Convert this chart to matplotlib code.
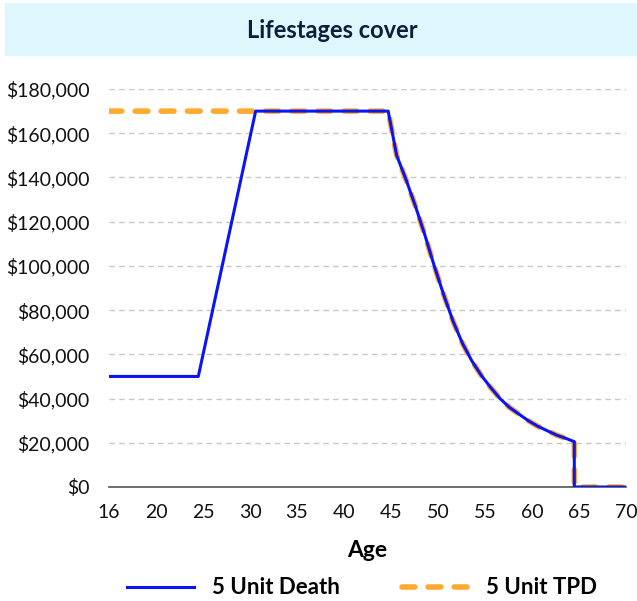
import matplotlib.pyplot as plt
from matplotlib.patches import Rectangle

plt.rcParams['font.family'] = ['Lato', 'DejaVu Sans']

# x positions on the chart's age scale (the "16" label sits one step left of 20)
death_age = [15, 24.5, 30.6, 44.7, 45.6, 46.6, 47.6, 48.6, 49.6, 50.6, 51.6,
             52.6, 53.6, 54.6, 55.6, 56.6, 57.6, 58.6, 59.6, 60.6, 61.6,
             62.6, 63.6, 64.5, 64.5, 70]
death_cover = [50000, 50000, 170000, 170000, 150000, 139000, 127000, 114000,
               100000, 87000, 75000, 65000, 57000, 50500, 45000, 40000, 36000,
               33000, 30000, 27500, 25500, 23500, 22000, 20500, 0, 0]

tpd_age = [15, 44.7, 45.6, 46.6, 47.6, 48.6, 49.6, 50.6, 51.6, 52.6, 53.6,
           54.6, 55.6, 56.6, 57.6, 58.6, 59.6, 60.6, 61.6, 62.6, 63.6,
           64.5, 64.5, 70]
tpd_cover = [170000, 170000, 150000, 139000, 127000, 114000, 100000, 87000,
             75000, 65000, 57000, 50500, 45000, 40000, 36000, 33000, 30000,
             27500, 25500, 23500, 22000, 20500, 0, 0]

tick_pos = [15, 20, 25, 30, 35, 40, 45, 50, 55, 60, 65, 70]
tick_labels = ['16', '20', '25', '30', '35', '40', '45', '50', '55', '60', '65', '70']
y_ticks = list(range(0, 180001, 20000))

fig = plt.figure(figsize=(6.37, 6.01), dpi=100)

# title band
fig.patches.append(Rectangle((5 / 637, 1 - 55 / 601), 632 / 637, 52 / 601,
                             transform=fig.transFigure, color='#ddf7fd', zorder=0))
fig.text(0.521, 1 - 30 / 601, 'Lifestages cover', ha='center', va='center',
         fontsize=17, fontweight='bold', color='#0b1f3d')

ax = fig.add_axes([109 / 637, 1 - 487 / 601, 517 / 637, 398 / 601])
ax.plot(tpd_age, tpd_cover, color='#ffa92e', lw=4, ls=(0, (2.3, 2.4)),
        solid_capstyle='round', dash_capstyle='round', label='5 Unit TPD', zorder=2)
ax.plot(death_age, death_cover, color='#0a14f5', lw=2.2, label='5 Unit Death', zorder=3)

ax.set_xlim(15, 70)
ax.set_ylim(0, 180000)
ax.set_xticks(tick_pos)
ax.set_xticklabels(tick_labels)
ax.set_yticks(y_ticks)
ax.set_yticklabels(['${:,}'.format(v) for v in y_ticks])
ax.tick_params(length=0, labelsize=14, colors='#111111')
ax.tick_params(axis='x', pad=12)
ax.tick_params(axis='y', pad=14)
ax.grid(axis='y', color='#c8c8c8', ls=(0, (4, 3)), lw=1)
for s in ['top', 'right', 'left']:
    ax.spines[s].set_visible(False)
ax.spines['bottom'].set_color('#555555')
ax.spines['bottom'].set_linewidth(1.2)
ax.set_xlabel('Age', fontsize=16.5, fontweight='bold', labelpad=14)

h, l = ax.get_legend_handles_labels()
fig.legend([h[1], h[0]], [l[1], l[0]], loc='center', bbox_to_anchor=(0.569, 1 - 588 / 601),
           ncol=2, frameon=False, prop={'size': 16, 'weight': 'bold'},
           handlelength=3.0, handletextpad=0.8, columnspacing=2.8)

fig.savefig('out.png', dpi=100, facecolor='white')
